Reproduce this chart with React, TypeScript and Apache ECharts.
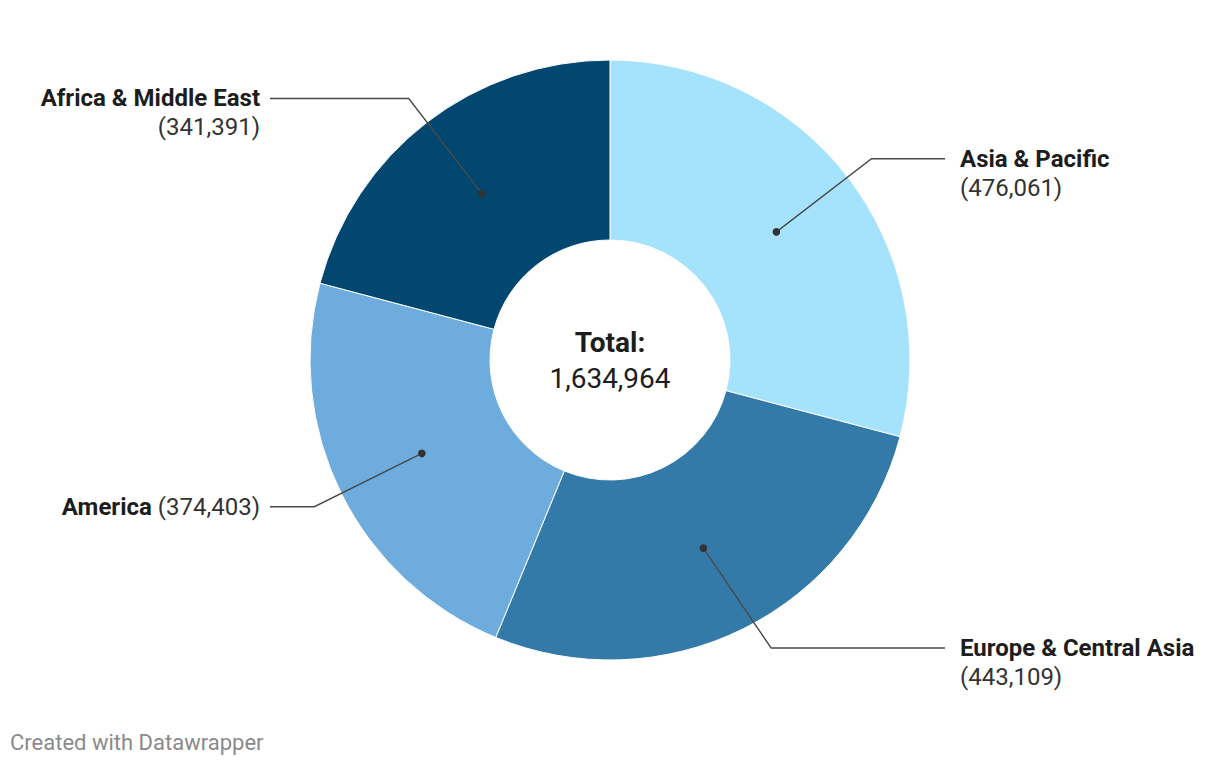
import React, { useEffect, useRef } from "react";
import * as echarts from "echarts";

const categories = ["Asia & Pacific", "Europe & Central Asia", "America", "Africa & Middle East"];
const values = [476061, 443109, 374403, 341391];
const colors = ["#a5e3fd", "#337aa8", "#6eacdd", "#02476f"];
const inlineLabel = [false, false, true, false];
const totalLabel = "Total:";
const footerText = "Created with Datawrapper";

const CX = 610;
const CY = 360;
const R_IN = 120;
const R_OUT = 300;
const R_DOT = 210;
const R_BEND = 330;
const LINE_END_R = 945;
const LINE_END_L = 270;
const TEXT_R = 960;
const TEXT_L = 260;
const MAX_DY = 288;
const LH = 29;
const FONT = "Roboto, 'Noto Sans', sans-serif";

const fmt = (n: number) => n.toLocaleString("en-US");

function geometry() {
  const total = values.reduce((a, b) => a + b, 0);
  let acc = 0;
  return values.map((v) => {
    const mid = ((acc + v / 2) / total) * 2 * Math.PI;
    acc += v;
    const sx = Math.sin(mid);
    const sy = -Math.cos(mid);
    const dot = [CX + R_DOT * sx, CY + R_DOT * sy];
    let dy = R_BEND * sy;
    dy = Math.max(-MAX_DY, Math.min(MAX_DY, dy));
    const right = sx >= 0;
    const dx = Math.sqrt(R_BEND * R_BEND - dy * dy) * (right ? 1 : -1);
    const bend = [CX + dx, CY + dy];
    const end = [right ? LINE_END_R : LINE_END_L, CY + dy];
    return { dot, bend, end, right };
  });
}

export default function App() {
  const ref = useRef<HTMLDivElement>(null);
  useEffect(() => {
    document.body.style.margin = "0";
    if (!ref.current) return;
    const chart = echarts.init(ref.current, undefined, { renderer: "svg" });
    const geo = geometry();
    const total = values.reduce((a, b) => a + b, 0);

    const data = categories.map((name, i) => ({
      name,
      value: values[i],
      itemStyle: { color: colors[i] },
      label: {
        formatter: inlineLabel[i]
          ? `{b|${name}}{v|\u00a0(${fmt(values[i])})}`
          : `{b|${name}}\n{v|(${fmt(values[i])})}`,
      },
    }));

    chart.setOption({
      animation: false,
      backgroundColor: "#ffffff",
      textStyle: { fontFamily: FONT },
      series: [
        {
          type: "pie",
          center: [CX, CY],
          radius: [R_IN, R_OUT],
          startAngle: 90,
          clockwise: true,
          avoidLabelOverlap: false,
          silent: true,
          itemStyle: { borderColor: "#ffffff", borderWidth: 1 },
          label: {
            show: true,
            position: "outside",
            fontFamily: FONT,
            rich: {
              b: { fontFamily: FONT, fontSize: 24, fontWeight: "bold", color: "#1d1d1d", lineHeight: LH },
              v: { fontFamily: FONT, fontSize: 24, fontWeight: "normal", color: "#333333", lineHeight: LH },
            },
          },
          labelLine: { show: false },
          labelLayout: (params: any) => {
            const g = geo[params.dataIndex];
            const inline = inlineLabel[params.dataIndex];
            return {
              x: g.right ? TEXT_R : TEXT_L,
              y: inline ? g.end[1] : g.end[1] - LH / 2,
              align: g.right ? "left" : "right",
              verticalAlign: inline ? "middle" : "top",
            };
          },
          data,
        },
      ],
      graphic: [
        ...geo.map((g) => ({
          type: "polyline",
          z: 100,
          shape: { points: [g.dot, g.bend, g.end] },
          style: { stroke: "#4a4a4a", lineWidth: 1.4, fill: null },
        })),
        ...geo.map((g) => ({
          type: "circle",
          z: 101,
          shape: { cx: g.dot[0], cy: g.dot[1], r: 3.8 },
          style: { fill: "#333333" },
        })),
        {
          type: "text",
          x: CX,
          y: CY,
          z: 100,
          style: {
            text: `{t|${totalLabel}}\n{n|${fmt(total)}}`,
            align: "center",
            verticalAlign: "middle",
            rich: {
              t: { fontFamily: FONT, fontSize: 28, fontWeight: "bold", fill: "#1d1d1d", lineHeight: 36, align: "center" },
              n: { fontFamily: FONT, fontSize: 28, fontWeight: "normal", fill: "#1d1d1d", lineHeight: 36, align: "center" },
            },
          },
        },
        {
          type: "text",
          x: 10,
          y: 742,
          style: {
            text: footerText,
            fontFamily: FONT,
            fontSize: 22,
            fill: "#8a8a8a",
            align: "left",
            verticalAlign: "middle",
          },
        },
      ],
    });
    return () => chart.dispose();
  }, []);
  return <div ref={ref} style={{ width: 1220, height: 766 }} />;
}
